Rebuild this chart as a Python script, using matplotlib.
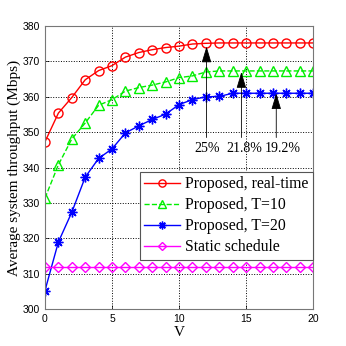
import matplotlib

matplotlib.use("Agg")
import matplotlib.pyplot as plt
import numpy as np

V = np.arange(0, 21)
realtime = [347.3, 355.4, 359.8, 364.8, 367.4, 368.8, 371.2, 372.5, 373.3, 373.9, 374.3,
            374.9, 375.1, 375.2, 375.2, 375.2, 375.2, 375.2, 375.2, 375.2, 375.2]
t10 = [331.4, 340.8, 348.1, 352.6, 357.6, 359.2, 361.6, 362.6, 363.3, 364.2, 365.4,
       365.9, 367.0, 367.3, 367.3, 367.3, 367.3, 367.3, 367.3, 367.3, 367.3]
t20 = [305.3, 319.0, 327.4, 337.3, 342.6, 345.3, 349.8, 351.8, 353.6, 355.1, 357.8,
       359.2, 360.0, 360.1, 361.0, 361.0, 361.0, 361.0, 361.0, 361.0, 361.0]
static = [311.9] * 21

gains = ["25%", "21.8%", "19.2%"]
arrow_x = [12.05, 14.65, 17.25]
arrow_tip = [374.2, 367.0, 361.0]
text_x = [12.1, 14.85, 17.75]

serif = ["Liberation Serif", "DejaVu Serif"]
sans = ["Liberation Sans", "DejaVu Sans"]

fig = plt.figure(figsize=(3.46, 3.46), dpi=100)
ax = fig.add_axes([0.130, 0.106, 0.775, 0.819])

ax.plot(V, realtime, "-o", color="red", mfc="none", ms=6.5, mew=1.0, lw=1.0,
        label="Proposed, real-time")
ax.plot(V, t10, "--^", color="#00ee00", mfc="none", ms=7, mew=1.0, lw=1.0,
        label="Proposed, T=10")
ax.plot(V, t20, "-", marker=(8, 2, 0), color="blue", ms=7, mew=1.0, lw=1.0,
        label="Proposed, T=20")
ax.plot(V, static, "-D", color="magenta", mfc="none", ms=5.5, mew=1.0, lw=1.0,
        label="Static schedule")

# 箭头和百分比标注
for x, tip in zip(arrow_x, arrow_tip):
    ax.annotate("", xy=(x, tip), xytext=(x, 348.5),
                arrowprops=dict(arrowstyle="-|>,head_length=1.0,head_width=0.3",
                                color="black", lw=0.6, shrinkA=0, shrinkB=0))
for x, g in zip(text_x, gains):
    ax.text(x, 345.5, g, ha="center", va="center", fontsize=10, family=serif)

ax.set_xlim(0, 20)
ax.set_ylim(300, 380)
ax.set_xticks([0, 5, 10, 15, 20])
ax.set_yticks(np.arange(300, 381, 10))
ax.grid(True, linestyle=":", color="black", lw=0.7)
ax.tick_params(direction="in", labelsize=7.5, length=3, width=0.5)
for lab in ax.get_xticklabels() + ax.get_yticklabels():
    lab.set_family(sans)
for s in ax.spines.values():
    s.set_color("#777777")
    s.set_linewidth(0.8)

ax.set_xlabel("V", fontsize=11, family=serif, labelpad=1)
ax.set_ylabel("Average system throughput (Mbps)", fontsize=11, family=serif, labelpad=1)

leg = ax.legend(loc="lower right", bbox_to_anchor=(1.0, 0.174), fancybox=False,
                edgecolor="#555555", framealpha=1, borderaxespad=0,
                prop={"family": serif, "size": 11.3}, handlelength=2.3,
                labelspacing=0.32, borderpad=0.3, handletextpad=0.3,
                markerscale=0.8)
leg.get_frame().set_linewidth(0.8)

fig.savefig("out.png", dpi=100)
